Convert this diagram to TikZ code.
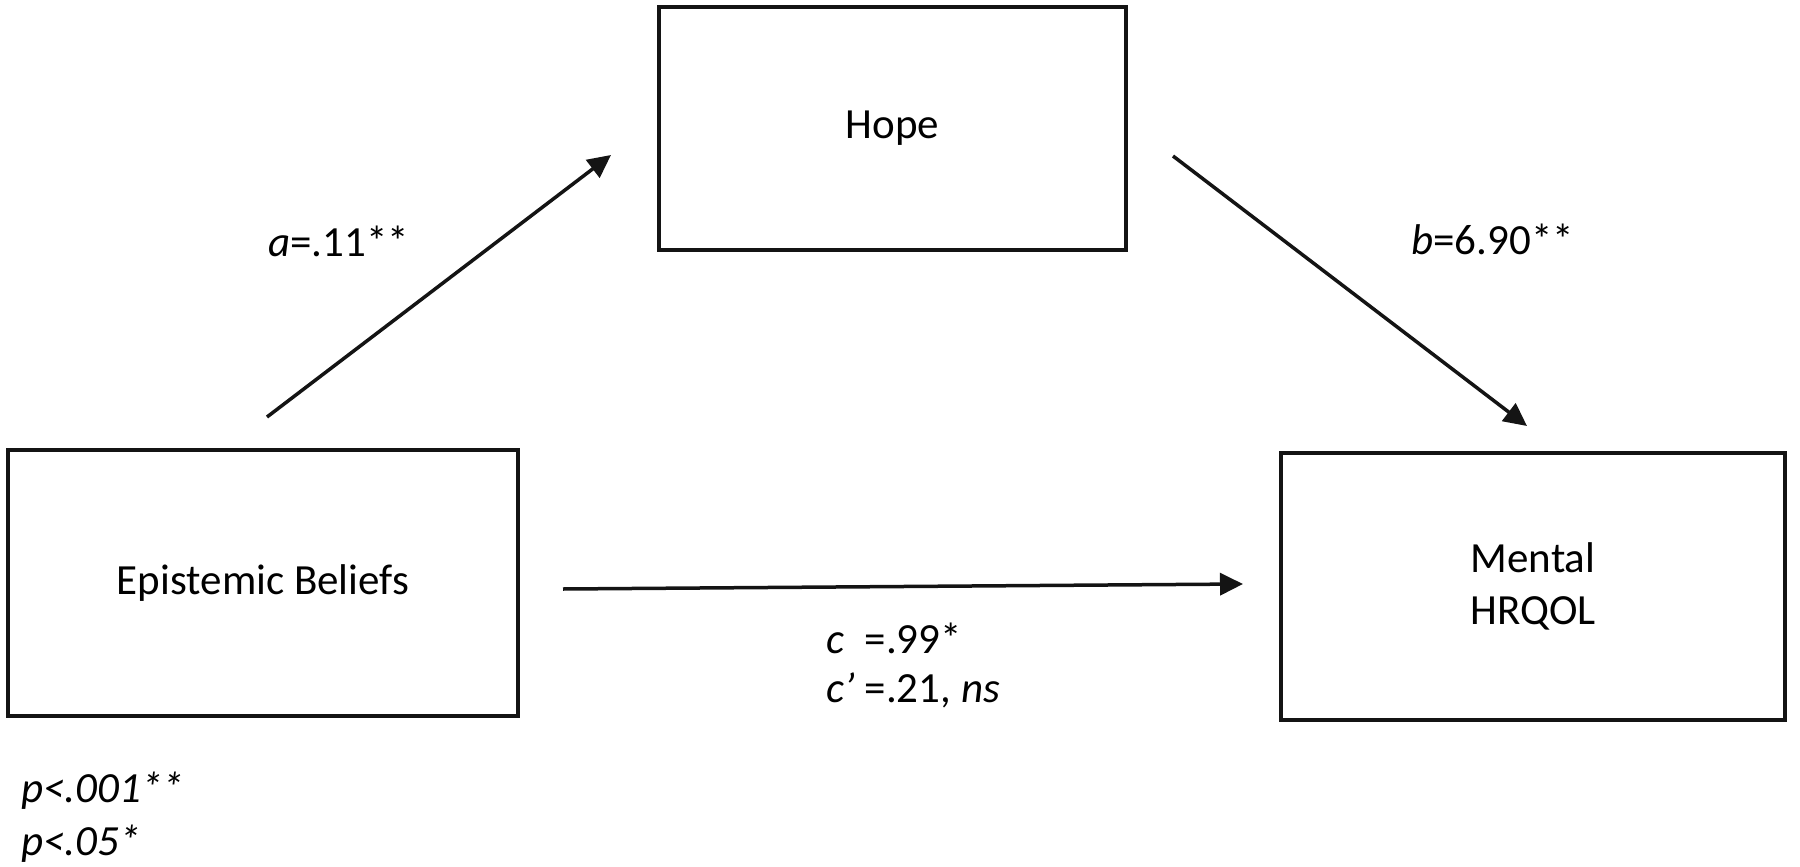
\documentclass[tikz,border=0pt]{standalone}
\usepackage{fontspec}
\setmainfont{Carlito}
\usetikzlibrary{arrows.meta}
\begin{document}
\begin{tikzpicture}[x=0.5pt,y=-0.5pt,
  box/.style={draw=black!92, line width=2pt, inner sep=0pt, align=center,
    minimum width=252pt, minimum height=133pt,
    font=\fontsize{21.5}{26}\selectfont},
  conn/.style={draw=black!92, line width=1.75pt, -{Triangle[length=11.5pt,width=11pt]}},
  lbl/.style={anchor=base west, inner sep=0pt, font=\fontsize{21.5}{26}\selectfont}]
\useasboundingbox (0,0) rectangle (1800,867);
% boxes
\node[box, minimum width=255pt] (ep) at (263,583) {Epistemic Beliefs};
\node[box, minimum width=233.5pt, minimum height=121.5pt] (hope) at (892.5,128.5) {Hope};
\node[box, minimum height=133.5pt] (ment) at (1533,586.5) {Mental\\HRQOL};
% connector end points
\coordinate (a0) at (267,417);
\coordinate (a1) at (611,155);
\coordinate (b0) at (1173,156);
\coordinate (b1) at (1527,426);
\coordinate (c0) at (563,589);
\coordinate (c1) at (1243,584);
\draw[conn] (a0) -- (a1);
\draw[conn] (b0) -- (b1);
\draw[conn] (c0) -- (c1);
% labels
\node[lbl] (la) at (268,256) {\textit{a}=.11**};
\node[lbl] (lb) at (1411,254) {\textit{b}=6.90**};
\node[lbl] (lc) at (826,653) {\textit{c\phantom{’}} =.99*};
\node[lbl] (lcp) at (826,702) {\textit{c’} =.21, \textit{ns}};
\node[lbl] (p1) at (21,802) {\textit{p<.001**}};
\node[lbl] (p2) at (21,855) {\textit{p<.05*}};
\end{tikzpicture}
\end{document}
